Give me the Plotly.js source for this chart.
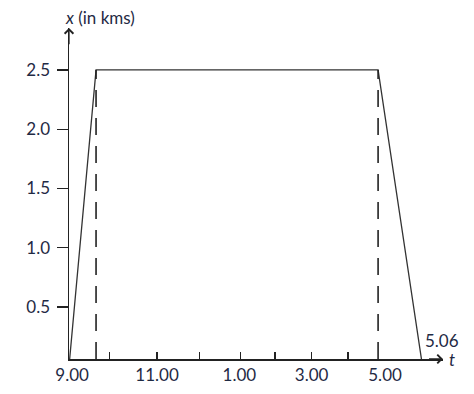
<!DOCTYPE html>
<html>
<head>
<meta charset="utf-8">
<script src="https://cdn.plot.ly/plotly-3.0.1.min.js"></script>
<style>html,body{margin:0;padding:0;background:#fff;}#chart{width:474px;height:394px;}</style>
</head>
<body>
<div id="chart"></div>
<script>
// Position along the time axis (hours after 9.00 as drawn) and distance x (km)
const timePos = [0, 0.7, 8.0, 9.15];
const distanceKm = [0, 2.5, 2.5, 0];
// Dashed drop lines under the corners of the graph
const dashedAt = [0.7, 8.0];
const dashedTop = 2.5;
// Time-axis labels and where they sit
const xTickLabels = ['9.00', '11.00', '1.00', '3.00', '5.00'];
const xTickLabelPos = [0.08, 2.28, 4.41, 6.28, 8.18];
// Small tick marks on the time axis
const xMinorTicks = [1.04, 2.28, 3.37, 4.43, 5.33, 6.27, 7.22];
// Distance axis ticks
const yTickVals = [0.5, 1.0, 1.5, 2.0, 2.5];
const yTickLabels = ['0.5', '1.0', '1.5', '2.0', '2.5'];
// End label
const endLabel = '5.06';

const FONT = 'Lato, "Open Sans", sans-serif';
const TXT = '#1f2a44';
const INK = '#222';
const yMin = 0.061, yMax = 2.854, xMax = 9.68;

const traces = [
  {
    x: timePos, y: distanceKm, mode: 'lines', type: 'scatter',
    line: {color: '#333', width: 1.3}, hoverinfo: 'skip', showlegend: false
  }
];
dashedAt.forEach(function (xv) {
  traces.push({
    x: [xv, xv], y: [yMin, dashedTop], mode: 'lines', type: 'scatter',
    line: {color: '#222', width: 1.6, dash: '17px,11px'}, hoverinfo: 'skip', showlegend: false
  });
});

const layout = {
  width: 474, height: 394,
  margin: {l: 69, r: 31, t: 28, b: 35},
  paper_bgcolor: '#fff', plot_bgcolor: '#fff',
  showlegend: false,
  font: {family: FONT, size: 17, color: TXT},
  xaxis: {
    range: [0, xMax], showgrid: false, zeroline: false,
    showline: true, linecolor: INK, linewidth: 1.5,
    tickmode: 'array', tickvals: xTickLabelPos, ticktext: xTickLabels,
    ticks: '', tickfont: {family: FONT, size: 17, color: TXT},
    minor: {tickmode: 'array', tickvals: xMinorTicks, ticks: 'inside', ticklen: 7, tickwidth: 1.2, tickcolor: INK, showgrid: false}
  },
  yaxis: {
    range: [yMin, yMax], showgrid: false, zeroline: false,
    showline: true, linecolor: INK, linewidth: 1.5,
    tickmode: 'array', tickvals: yTickVals, ticktext: yTickLabels,
    ticks: 'outside', ticklen: 11, tickwidth: 1.2, tickcolor: INK,
    ticklabelstandoff: 3,
    tickfont: {family: FONT, size: 17, color: TXT}
  },
  annotations: [
    {x: 0, y: yMax, ax: 0, ay: yMax - 0.15, xref: 'x', yref: 'y', axref: 'x', ayref: 'y',
     text: '', showarrow: true, arrowhead: 4, arrowsize: 1.3, arrowwidth: 1.3, arrowcolor: INK},
    {x: xMax, y: yMin, ax: xMax - 0.4, ay: yMin, xref: 'x', yref: 'y', axref: 'x', ayref: 'y',
     text: '', showarrow: true, arrowhead: 4, arrowsize: 1.3, arrowwidth: 1.3, arrowcolor: INK},
    {x: -0.016, y: 1.033, xref: 'paper', yref: 'paper', xanchor: 'left', yanchor: 'middle',
     text: '<i>x</i> (in kms)', showarrow: false, font: {family: FONT, size: 17, color: TXT}},
    {x: 1.011, y: yMin, xref: 'paper', yref: 'y', xanchor: 'left', yanchor: 'middle',
     text: '<i>t</i>', showarrow: false, font: {family: FONT, size: 17, color: TXT}},
    {x: timePos[3], y: 0.22, xref: 'x', yref: 'y', xanchor: 'left', yanchor: 'middle',
     text: endLabel, showarrow: false, font: {family: FONT, size: 17, color: TXT}}
  ]
};

Plotly.newPlot('chart', traces, layout, {displayModeBar: false, staticPlot: true});
</script>
</body>
</html>
